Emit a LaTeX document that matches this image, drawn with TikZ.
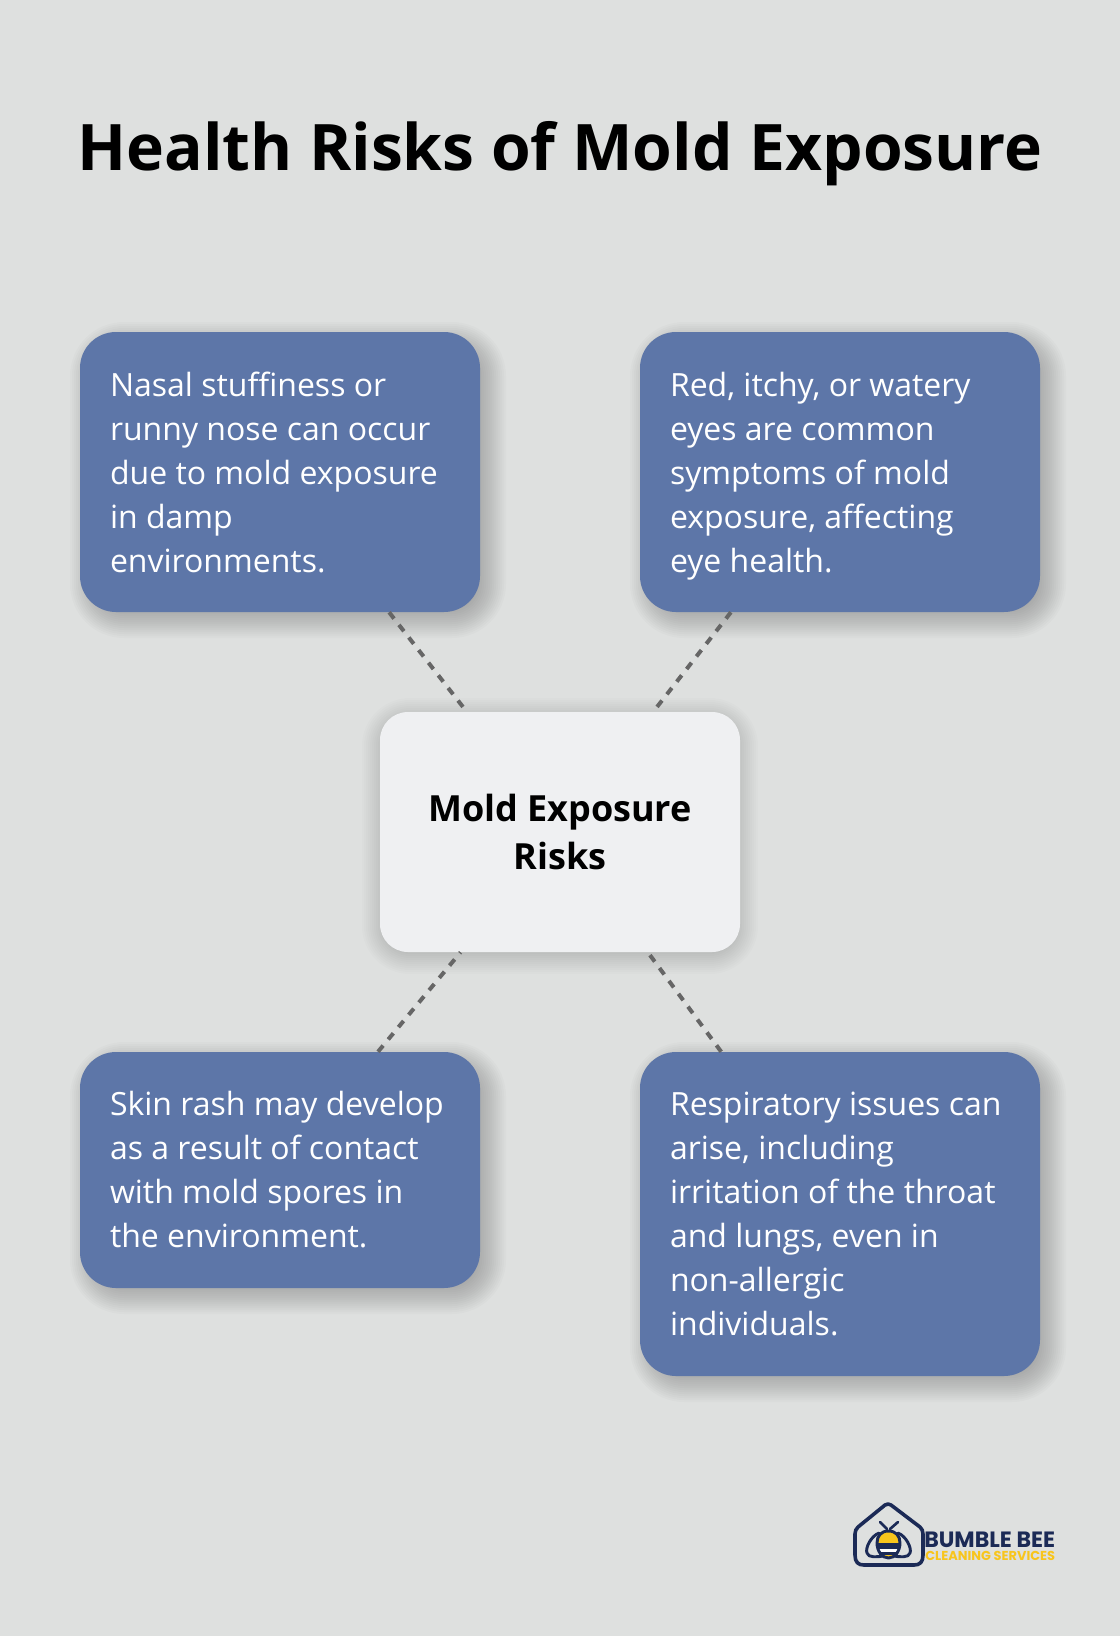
\documentclass[tikz,border=0pt]{standalone}
\usepackage{fontspec}
\setmainfont{Open Sans}
\newfontfamily\logofont{Poppins}
\definecolor{bgc}{HTML}{DEE0DF}
\definecolor{bluebox}{HTML}{5D76A8}
\definecolor{lightbox}{HTML}{EFF0F2}
\definecolor{dashc}{HTML}{666666}
\definecolor{navy}{HTML}{1B2A56}
\definecolor{beeyel}{HTML}{F8C51C}
\newcommand{\softshadow}[6]{%
  \foreach \s in {-12,-10,...,18}{%
    \fill[black,fill opacity=#6,rounded corners={(#5+\s+12)*0.75pt}]
      ({#1-\s},{#2-\s}) rectangle ({#3+\s},{#4+\s});
  }}
\tikzset{
  every node/.style={font=\fontsize{24}{33}\selectfont},
  bluenode/.style={fill=bluebox,text=white,rounded corners=27pt,minimum width=300pt,text width=255pt,inner xsep=22.5pt,inner ysep=0pt,align=flush left,execute at begin node={\rule{0pt}{18.3pt}}},
  centernode/.style={fill=lightbox,text=black,rounded corners=21pt,minimum width=270pt,minimum height=180pt,align=center,font=\fontsize{27}{36}\selectfont\bfseries,execute at begin node={\rule{0pt}{23pt}}},
  titlenode/.style={text=black,font=\fontsize{48.1}{60}\selectfont\bfseries},
  link/.style={draw=dashc,line width=3pt,dash pattern=on 6pt off 6pt},
  logoline/.style={draw=navy,line width=2.7pt,line join=round,line cap=round}
}
\begin{document}
\begin{tikzpicture}[x=0.75pt,y=-0.75pt]
\useasboundingbox (0,0) rectangle (1120,1636);
\fill[bgc] (0,0) rectangle (1120,1636);
% shadows
\softshadow{88}{340}{488}{620}{24}{0.014}
\softshadow{648}{340}{1048}{620}{24}{0.014}
\softshadow{88}{1060}{488}{1296}{24}{0.014}
\softshadow{648}{1060}{1048}{1384}{24}{0.014}
\softshadow{380}{716}{740}{956}{18}{0.011}
% title
\node[titlenode] (title) at (560,154) {Health Risks of Mold Exposure};
% boxes
\node[bluenode,minimum height=210pt] (tl) at (280,472) {Nasal stuffiness or\\runny nose can occur\\due to mold exposure\\in damp\\environments.};
\node[bluenode,minimum height=210pt] (tr) at (840,472) {Red, itchy, or watery\\eyes are common\\symptoms of mold\\exposure, affecting\\\smash{eye health.}};
\node[bluenode,minimum height=177pt] (bl) at (280,1170) {Skin rash may develop\\as a result of contact\\with mold spores in\\the environment.};
\node[bluenode,minimum height=243pt] (br) at (840,1214) {Respiratory issues can\\arise, including\\irritation of the throat\\and lungs, even in\\non-allergic\\individuals.};
\node[centernode] (c) at (560,832) {Mold Exposure\\Risks};
% links
\draw[link] (tl) -- (c);
\draw[link] (tr) -- (c);
\draw[link] (bl) -- (c);
\draw[link] (br) -- (c);
% logo
\draw[logoline] (888,1504) .. controls (889,1504) and (890,1504) .. (891,1505) -- (920,1527) .. controls (922,1529) and (923,1531) .. (923,1534) -- (923,1555)
  .. controls (923,1562) and (920,1565) .. (914,1565) -- (864,1565)
  .. controls (858,1565) and (855,1562) .. (855,1555) -- (855,1534)
  .. controls (855,1531) and (856,1529) .. (858,1527) -- (885,1505) .. controls (886,1504) and (887,1504) .. (888,1504) -- cycle;
% bee
\fill[beeyel] (877.5,1543) .. controls (877.5,1534) and (882,1531) .. (888.5,1531) .. controls (895,1531) and (899.5,1534) .. (899.5,1543) -- cycle;
\fill[navy] (877,1543) -- (900,1543) -- (899,1549) -- (878,1549) -- cycle;
\fill[white] (879,1549) -- (898,1549) -- (896,1553) -- (881,1553) -- cycle;
\fill[beeyel] (882,1554) -- (895,1554) .. controls (893,1556) and (891,1558) .. (888.5,1558) .. controls (886,1558) and (884,1556) .. (882,1554) -- cycle;
\draw[logoline,line width=2.2pt] (888.5,1531) .. controls (881,1531) and (877,1536) .. (877,1543) .. controls (877,1551) and (882,1558) .. (888.5,1558) .. controls (895,1558) and (900,1551) .. (900,1543) .. controls (900,1536) and (896,1531) .. (888.5,1531) -- cycle;
\draw[logoline,line width=1.8pt] (880,1553.5) -- (897,1553.5);
\draw[logoline,line width=2pt] (880,1522) -- (887,1529) (898,1522) -- (890,1529);
\draw[logoline,line width=2.2pt] (879,1533) .. controls (871,1536) and (865,1548) .. (867,1553) .. controls (868,1558) and (878,1557) .. (883,1556);
\draw[logoline,line width=2.2pt] (898,1533) .. controls (906,1536) and (912,1548) .. (910,1553) .. controls (909,1558) and (899,1557) .. (894,1556);
\node[anchor=west,inner sep=0pt,text=navy,font=\logofont\bfseries\fontsize{16.6}{18}\selectfont] (logoa) at (924,1539.5) {BUMBLE BEE};
\node[anchor=west,inner sep=0pt,text=beeyel,font=\logofont\bfseries\fontsize{9.7}{11}\selectfont] (logob) at (925,1556) {CLEANING SERVICES};
\end{tikzpicture}
\end{document}
